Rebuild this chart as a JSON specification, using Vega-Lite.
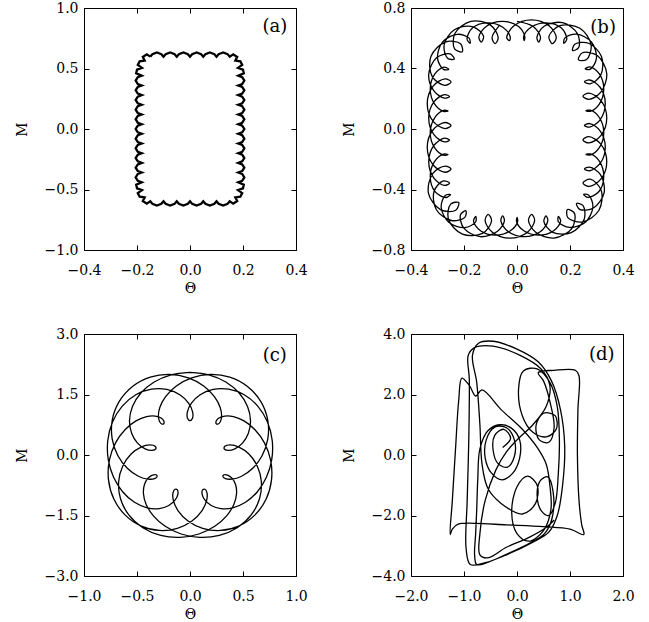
{
"$schema":"https://vega.github.io/schema/vega-lite/v6.json",
"background":"white",
"padding":{"left":14,"top":0,"right":0,"bottom":0},
"config":{"view":{"stroke":"black","strokeWidth":1},
"axis":{"domain":false,"grid":false,"tickSize":-5,"tickColor":"black","tickWidth":1,"labelColor":"black","labelFont":"DejaVu Serif","labelFontSize":14,"labelFlush":false,"labelOverlap":false,"titleFont":"DejaVu Serif","titleFontSize":14,"titleFontWeight":"normal","titleColor":"black"},
"axisX":{"labelPadding":18,"titlePadding":4},
"axisY":{"labelPadding":11,"titlePadding":15},
"text":{"font":"DejaVu Serif","fontSize":18,"color":"black"}},
"datasets":{
"a":[{"i":0,"x":-0.15,"y":0.598},{"i":1,"x":-0.142,"y":0.618},{"i":2,"x":-0.125,"y":0.632},{"i":3,"x":-0.108,"y":0.618},{"i":4,"x":-0.1,"y":0.598},{"i":5,"x":-0.092,"y":0.618},{"i":6,"x":-0.075,"y":0.632},{"i":7,"x":-0.058,"y":0.618},{"i":8,"x":-0.05,"y":0.598},{"i":9,"x":-0.042,"y":0.618},{"i":10,"x":-0.025,"y":0.632},{"i":11,"x":-0.008,"y":0.618},{"i":12,"x":0,"y":0.598},{"i":13,"x":0.008,"y":0.618},{"i":14,"x":0.025,"y":0.632},{"i":15,"x":0.042,"y":0.618},{"i":16,"x":0.05,"y":0.598},{"i":17,"x":0.058,"y":0.618},{"i":18,"x":0.075,"y":0.632},{"i":19,"x":0.092,"y":0.618},{"i":20,"x":0.1,"y":0.598},{"i":21,"x":0.108,"y":0.618},{"i":22,"x":0.125,"y":0.632},{"i":23,"x":0.142,"y":0.618},{"i":24,"x":0.15,"y":0.598},
{"i":25,"x":0.163,"y":0.617},{"i":26,"x":0.178,"y":0.595},{"i":27,"x":0.171,"y":0.565},{"i":28,"x":0.19,"y":0.56},{"i":29,"x":0.197,"y":0.53},{"i":30,"x":0.181,"y":0.505},{"i":31,"x":0.2,"y":0.49},{"i":32,"x":0.203,"y":0.46},{"i":34,"x":0.182,"y":0.44},
{"i":35,"x":0.197,"y":0.428},{"i":36,"x":0.205,"y":0.4},{"i":37,"x":0.197,"y":0.372},{"i":38,"x":0.182,"y":0.36},{"i":39,"x":0.197,"y":0.348},{"i":40,"x":0.205,"y":0.32},{"i":41,"x":0.197,"y":0.292},{"i":42,"x":0.182,"y":0.28},{"i":43,"x":0.197,"y":0.268},{"i":44,"x":0.205,"y":0.24},{"i":45,"x":0.197,"y":0.212},{"i":46,"x":0.182,"y":0.2},{"i":47,"x":0.197,"y":0.188},{"i":48,"x":0.205,"y":0.16},{"i":49,"x":0.197,"y":0.132},{"i":50,"x":0.182,"y":0.12},{"i":51,"x":0.197,"y":0.108},{"i":52,"x":0.205,"y":0.08},{"i":53,"x":0.197,"y":0.052},{"i":54,"x":0.182,"y":0.04},{"i":55,"x":0.197,"y":0.028},{"i":56,"x":0.205,"y":0},{"i":57,"x":0.197,"y":-0.028},{"i":58,"x":0.182,"y":-0.04},{"i":59,"x":0.197,"y":-0.052},{"i":60,"x":0.205,"y":-0.08},{"i":61,"x":0.197,"y":-0.108},{"i":62,"x":0.182,"y":-0.12},{"i":63,"x":0.197,"y":-0.132},{"i":64,"x":0.205,"y":-0.16},{"i":65,"x":0.197,"y":-0.188},{"i":66,"x":0.182,"y":-0.2},{"i":67,"x":0.197,"y":-0.212},{"i":68,"x":0.205,"y":-0.24},{"i":69,"x":0.197,"y":-0.268},{"i":70,"x":0.182,"y":-0.28},{"i":71,"x":0.197,"y":-0.292},{"i":72,"x":0.205,"y":-0.32},{"i":73,"x":0.197,"y":-0.348},{"i":74,"x":0.182,"y":-0.36},{"i":75,"x":0.197,"y":-0.372},{"i":76,"x":0.205,"y":-0.4},{"i":77,"x":0.197,"y":-0.428},{"i":78,"x":0.182,"y":-0.44},
{"i":79,"x":0.203,"y":-0.46},{"i":80,"x":0.2,"y":-0.49},{"i":81,"x":0.181,"y":-0.505},{"i":82,"x":0.197,"y":-0.53},{"i":83,"x":0.19,"y":-0.56},{"i":84,"x":0.171,"y":-0.565},{"i":85,"x":0.178,"y":-0.595},{"i":86,"x":0.163,"y":-0.617},{"i":88,"x":0.15,"y":-0.598},
{"i":89,"x":0.142,"y":-0.618},{"i":90,"x":0.125,"y":-0.632},{"i":91,"x":0.108,"y":-0.618},{"i":92,"x":0.1,"y":-0.598},{"i":93,"x":0.092,"y":-0.618},{"i":94,"x":0.075,"y":-0.632},{"i":95,"x":0.058,"y":-0.618},{"i":96,"x":0.05,"y":-0.598},{"i":97,"x":0.042,"y":-0.618},{"i":98,"x":0.025,"y":-0.632},{"i":99,"x":0.008,"y":-0.618},{"i":100,"x":0,"y":-0.598},{"i":101,"x":-0.008,"y":-0.618},{"i":102,"x":-0.025,"y":-0.632},{"i":103,"x":-0.042,"y":-0.618},{"i":104,"x":-0.05,"y":-0.598},{"i":105,"x":-0.058,"y":-0.618},{"i":106,"x":-0.075,"y":-0.632},{"i":107,"x":-0.092,"y":-0.618},{"i":108,"x":-0.1,"y":-0.598},{"i":109,"x":-0.108,"y":-0.618},{"i":110,"x":-0.125,"y":-0.632},{"i":111,"x":-0.142,"y":-0.618},{"i":112,"x":-0.15,"y":-0.598},
{"i":113,"x":-0.163,"y":-0.617},{"i":114,"x":-0.178,"y":-0.595},{"i":115,"x":-0.171,"y":-0.565},{"i":116,"x":-0.19,"y":-0.56},{"i":117,"x":-0.197,"y":-0.53},{"i":118,"x":-0.181,"y":-0.505},{"i":119,"x":-0.2,"y":-0.49},{"i":120,"x":-0.203,"y":-0.46},{"i":122,"x":-0.182,"y":-0.44},
{"i":123,"x":-0.197,"y":-0.428},{"i":124,"x":-0.205,"y":-0.4},{"i":125,"x":-0.197,"y":-0.372},{"i":126,"x":-0.182,"y":-0.36},{"i":127,"x":-0.197,"y":-0.348},{"i":128,"x":-0.205,"y":-0.32},{"i":129,"x":-0.197,"y":-0.292},{"i":130,"x":-0.182,"y":-0.28},{"i":131,"x":-0.197,"y":-0.268},{"i":132,"x":-0.205,"y":-0.24},{"i":133,"x":-0.197,"y":-0.212},{"i":134,"x":-0.182,"y":-0.2},{"i":135,"x":-0.197,"y":-0.188},{"i":136,"x":-0.205,"y":-0.16},{"i":137,"x":-0.197,"y":-0.132},{"i":138,"x":-0.182,"y":-0.12},{"i":139,"x":-0.197,"y":-0.108},{"i":140,"x":-0.205,"y":-0.08},{"i":141,"x":-0.197,"y":-0.052},{"i":142,"x":-0.182,"y":-0.04},{"i":143,"x":-0.197,"y":-0.028},{"i":144,"x":-0.205,"y":0},{"i":145,"x":-0.197,"y":0.028},{"i":146,"x":-0.182,"y":0.04},{"i":147,"x":-0.197,"y":0.052},{"i":148,"x":-0.205,"y":0.08},{"i":149,"x":-0.197,"y":0.108},{"i":150,"x":-0.182,"y":0.12},{"i":151,"x":-0.197,"y":0.132},{"i":152,"x":-0.205,"y":0.16},{"i":153,"x":-0.197,"y":0.188},{"i":154,"x":-0.182,"y":0.2},{"i":155,"x":-0.197,"y":0.212},{"i":156,"x":-0.205,"y":0.24},{"i":157,"x":-0.197,"y":0.268},{"i":158,"x":-0.182,"y":0.28},{"i":159,"x":-0.197,"y":0.292},{"i":160,"x":-0.205,"y":0.32},{"i":161,"x":-0.197,"y":0.348},{"i":162,"x":-0.182,"y":0.36},{"i":163,"x":-0.197,"y":0.372},{"i":164,"x":-0.205,"y":0.4},{"i":165,"x":-0.197,"y":0.428},{"i":166,"x":-0.182,"y":0.44},
{"i":167,"x":-0.203,"y":0.46},{"i":168,"x":-0.2,"y":0.49},{"i":169,"x":-0.181,"y":0.505},{"i":170,"x":-0.197,"y":0.53},{"i":171,"x":-0.19,"y":0.56},{"i":172,"x":-0.171,"y":0.565},{"i":173,"x":-0.178,"y":0.595},{"i":174,"x":-0.163,"y":0.617},{"i":176,"x":-0.15,"y":0.598}],
"b":[{"i":0,"x":0,"y":0.712},{"i":1,"x":0.0613,"y":0.678},{"i":2,"x":0.0886,"y":0.608},{"i":3,"x":0.0819,"y":0.574},{"i":4,"x":0.0752,"y":0.608},{"i":5,"x":0.1037,"y":0.681},{"i":6,"x":0.1722,"y":0.703},{"i":7,"x":0.2284,"y":0.63},{"i":8,"x":0.2325,"y":0.538},{"i":9,"x":0.2098,"y":0.519},{"i":10,"x":0.218,"y":0.56},{"i":11,"x":0.2703,"y":0.567},{"i":12,"x":0.3188,"y":0.479},{"i":13,"x":0.3164,"y":0.358},{"i":14,"x":0.2758,"y":0.299},{"i":15,"x":0.2545,"y":0.313},{"i":16,"x":0.2741,"y":0.324},{"i":17,"x":0.3135,"y":0.276},{"i":18,"x":0.3331,"y":0.169},{"i":19,"x":0.3135,"y":0.061},{"i":20,"x":0.2741,"y":0.013},{"i":21,"x":0.2545,"y":0.024},{"i":22,"x":0.2741,"y":0.036},{"i":23,"x":0.3135,"y":-0.012},{"i":24,"x":0.3331,"y":-0.12},{"i":25,"x":0.3135,"y":-0.228},{"i":26,"x":0.2741,"y":-0.276},{"i":27,"x":0.2545,"y":-0.264},{"i":28,"x":0.2741,"y":-0.252},{"i":29,"x":0.3149,"y":-0.302},{"i":30,"x":0.3286,"y":-0.422},{"i":31,"x":0.2887,"y":-0.522},{"i":32,"x":0.2364,"y":-0.531},{"i":33,"x":0.2247,"y":-0.492},{"i":34,"x":0.2487,"y":-0.505},{"i":35,"x":0.2535,"y":-0.597},{"i":36,"x":0.2045,"y":-0.685},{"i":37,"x":0.135,"y":-0.683},{"i":38,"x":0.1015,"y":-0.612},{"i":39,"x":0.1095,"y":-0.574},{"i":40,"x":0.1162,"y":-0.608},{"i":41,"x":0.0889,"y":-0.678},{"i":42,"x":0.0277,"y":-0.712},{"i":43,"x":-0.0336,"y":-0.678},{"i":44,"x":-0.0609,"y":-0.608},{"i":45,"x":-0.0542,"y":-0.574},{"i":46,"x":-0.0475,"y":-0.608},{"i":47,"x":-0.0748,"y":-0.678},{"i":48,"x":-0.1386,"y":-0.712},{"i":49,"x":-0.2006,"y":-0.656},{"i":50,"x":-0.2132,"y":-0.567},{"i":51,"x":-0.1929,"y":-0.541},{"i":52,"x":-0.1969,"y":-0.584},{"i":53,"x":-0.2478,"y":-0.605},{"i":54,"x":-0.3041,"y":-0.534},{"i":55,"x":-0.3129,"y":-0.412},{"i":56,"x":-0.278,"y":-0.343},{"i":57,"x":-0.2545,"y":-0.358},{"i":58,"x":-0.2741,"y":-0.373},{"i":59,"x":-0.3135,"y":-0.325},{"i":60,"x":-0.3331,"y":-0.217},{"i":61,"x":-0.3135,"y":-0.109},{"i":62,"x":-0.2741,"y":-0.061},{"i":63,"x":-0.2545,"y":-0.073},{"i":64,"x":-0.2741,"y":-0.085},{"i":65,"x":-0.3135,"y":-0.037},{"i":66,"x":-0.3331,"y":0.071},{"i":67,"x":-0.3135,"y":0.179},{"i":68,"x":-0.2741,"y":0.227},{"i":69,"x":-0.2545,"y":0.215},{"i":70,"x":-0.2741,"y":0.204},{"i":71,"x":-0.3135,"y":0.252},{"i":72,"x":-0.3331,"y":0.362},{"i":73,"x":-0.3027,"y":0.472},{"i":74,"x":-0.2521,"y":0.496},{"i":75,"x":-0.2367,"y":0.462},{"i":76,"x":-0.2619,"y":0.468},{"i":77,"x":-0.2748,"y":0.557},{"i":78,"x":-0.2349,"y":0.658},{"i":79,"x":-0.166,"y":0.676},{"i":80,"x":-0.1265,"y":0.615},{"i":81,"x":-0.1345,"y":0.574},{"i":82,"x":-0.1439,"y":0.608},{"i":83,"x":-0.1166,"y":0.678},{"i":84,"x":-0.0553,"y":0.712},{"i":85,"x":0.006,"y":0.678},
{"i":86,"x":0.0291,"y":0.613},{"i":87,"x":0.0273,"y":0.584},{"i":88,"x":0.0255,"y":0.613},{"i":89,"x":0.0528,"y":0.673},{"i":90,"x":0.1092,"y":0.702},{"i":91,"x":0.1665,"y":0.669},{"i":92,"x":0.188,"y":0.595},{"i":93,"x":0.1768,"y":0.566},{"i":94,"x":0.1802,"y":0.601},{"i":95,"x":0.2245,"y":0.627},{"i":96,"x":0.2807,"y":0.575},{"i":97,"x":0.2998,"y":0.469},{"i":98,"x":0.2771,"y":0.396},{"i":99,"x":0.2572,"y":0.397},{"i":100,"x":0.2757,"y":0.411},{"i":101,"x":0.3106,"y":0.364},{"i":102,"x":0.3274,"y":0.265},{"i":103,"x":0.3106,"y":0.165},{"i":104,"x":0.277,"y":0.117},{"i":105,"x":0.2602,"y":0.121},{"i":106,"x":0.277,"y":0.124},{"i":107,"x":0.3106,"y":0.076},{"i":108,"x":0.3274,"y":-0.024},{"i":109,"x":0.3106,"y":-0.123},{"i":110,"x":0.277,"y":-0.171},{"i":111,"x":0.2602,"y":-0.168},{"i":112,"x":0.277,"y":-0.165},{"i":113,"x":0.3106,"y":-0.213},{"i":114,"x":0.3274,"y":-0.312},{"i":115,"x":0.3093,"y":-0.413},{"i":116,"x":0.2677,"y":-0.452},{"i":117,"x":0.2513,"y":-0.432},{"i":118,"x":0.2708,"y":-0.438},{"i":119,"x":0.2864,"y":-0.516},{"i":120,"x":0.2579,"y":-0.616},{"i":121,"x":0.1983,"y":-0.651},{"i":122,"x":0.1562,"y":-0.613},{"i":123,"x":0.1561,"y":-0.578},{"i":124,"x":0.1647,"y":-0.61},{"i":125,"x":0.1386,"y":-0.673},{"i":126,"x":0.0822,"y":-0.702},{"i":127,"x":0.0258,"y":-0.673},{"i":128,"x":-0.0014,"y":-0.613},{"i":129,"x":0.0004,"y":-0.584},{"i":130,"x":0.0022,"y":-0.613},{"i":131,"x":-0.0251,"y":-0.673},{"i":132,"x":-0.0815,"y":-0.702},{"i":133,"x":-0.1379,"y":-0.673},{"i":134,"x":-0.1641,"y":-0.61},{"i":135,"x":-0.1555,"y":-0.578},{"i":136,"x":-0.1558,"y":-0.613},{"i":137,"x":-0.1973,"y":-0.652},{"i":138,"x":-0.2574,"y":-0.616},{"i":139,"x":-0.2862,"y":-0.517},{"i":140,"x":-0.2707,"y":-0.439},{"i":141,"x":-0.2509,"y":-0.433},{"i":142,"x":-0.2676,"y":-0.453},{"i":143,"x":-0.3092,"y":-0.414},{"i":144,"x":-0.3274,"y":-0.313},{"i":145,"x":-0.3106,"y":-0.214},{"i":146,"x":-0.277,"y":-0.166},{"i":147,"x":-0.2602,"y":-0.169},{"i":148,"x":-0.277,"y":-0.173},{"i":149,"x":-0.3106,"y":-0.125},{"i":150,"x":-0.3274,"y":-0.025},{"i":151,"x":-0.3106,"y":0.074},{"i":152,"x":-0.277,"y":0.123},{"i":153,"x":-0.2602,"y":0.119},{"i":154,"x":-0.277,"y":0.116},{"i":155,"x":-0.3106,"y":0.164},{"i":156,"x":-0.3274,"y":0.263},{"i":157,"x":-0.3106,"y":0.363},{"i":158,"x":-0.2758,"y":0.409},{"i":159,"x":-0.2575,"y":0.395},{"i":160,"x":-0.2774,"y":0.394},{"i":161,"x":-0.2998,"y":0.467},{"i":162,"x":-0.2812,"y":0.574},{"i":163,"x":-0.2253,"y":0.626},{"i":164,"x":-0.1806,"y":0.601},{"i":165,"x":-0.177,"y":0.566},{"i":166,"x":-0.1886,"y":0.595},{"i":167,"x":-0.1674,"y":0.669},{"i":168,"x":-0.1099,"y":0.702},{"i":169,"x":-0.0535,"y":0.673},{"i":170,"x":-0.0262,"y":0.613},{"i":171,"x":-0.028,"y":0.584},
{"i":172,"x":-0.0389,"y":0.604},{"i":173,"x":-0.0116,"y":0.683},{"i":174,"x":0.0546,"y":0.722},{"i":175,"x":0.1208,"y":0.683},{"i":176,"x":0.1481,"y":0.604},{"i":177,"x":0.1335,"y":0.564},{"i":178,"x":0.1205,"y":0.612},{"i":179,"x":0.162,"y":0.683},{"i":180,"x":0.2373,"y":0.666},{"i":181,"x":0.2796,"y":0.556},{"i":182,"x":0.2625,"y":0.459},{"i":183,"x":0.2319,"y":0.458},{"i":184,"x":0.2472,"y":0.504},{"i":185,"x":0.304,"y":0.484},{"i":186,"x":0.3387,"y":0.365},{"i":187,"x":0.3163,"y":0.244},{"i":188,"x":0.2713,"y":0.196},{"i":189,"x":0.2489,"y":0.217},{"i":190,"x":0.2713,"y":0.237},{"i":191,"x":0.3163,"y":0.189},{"i":192,"x":0.3387,"y":0.072},{"i":193,"x":0.3163,"y":-0.044},{"i":194,"x":0.2713,"y":-0.092},{"i":195,"x":0.2489,"y":-0.072},{"i":196,"x":0.2713,"y":-0.051},{"i":197,"x":0.3163,"y":-0.1},{"i":198,"x":0.3387,"y":-0.216},{"i":199,"x":0.3163,"y":-0.332},{"i":200,"x":0.2713,"y":-0.38},{"i":201,"x":0.2489,"y":-0.357},{"i":202,"x":0.2761,"y":-0.332},{"i":203,"x":0.3175,"y":-0.404},{"i":204,"x":0.3093,"y":-0.537},{"i":205,"x":0.2474,"y":-0.614},{"i":206,"x":0.1918,"y":-0.586},{"i":207,"x":0.1906,"y":-0.532},{"i":208,"x":0.2169,"y":-0.558},{"i":209,"x":0.2067,"y":-0.658},{"i":210,"x":0.1398,"y":-0.721},{"i":211,"x":0.0706,"y":-0.683},{"i":212,"x":0.0433,"y":-0.604},{"i":213,"x":0.0549,"y":-0.564},{"i":214,"x":0.0666,"y":-0.604},{"i":215,"x":0.0393,"y":-0.683},{"i":216,"x":-0.0269,"y":-0.722},{"i":217,"x":-0.0931,"y":-0.683},{"i":218,"x":-0.1204,"y":-0.604},{"i":219,"x":-0.1088,"y":-0.564},{"i":220,"x":-0.0959,"y":-0.607},{"i":221,"x":-0.1301,"y":-0.69},{"i":222,"x":-0.2061,"y":-0.695},{"i":223,"x":-0.2583,"y":-0.598},{"i":224,"x":-0.2504,"y":-0.497},{"i":225,"x":-0.2202,"y":-0.486},{"i":226,"x":-0.2311,"y":-0.537},{"i":227,"x":-0.2889,"y":-0.533},{"i":228,"x":-0.334,"y":-0.425},{"i":229,"x":-0.3181,"y":-0.295},{"i":230,"x":-0.2713,"y":-0.245},{"i":231,"x":-0.2489,"y":-0.265},{"i":232,"x":-0.2713,"y":-0.286},{"i":233,"x":-0.3163,"y":-0.238},{"i":234,"x":-0.3387,"y":-0.121},{"i":235,"x":-0.3163,"y":-0.005},{"i":236,"x":-0.2713,"y":0.043},{"i":237,"x":-0.2489,"y":0.023},{"i":238,"x":-0.2713,"y":0.003},{"i":239,"x":-0.3163,"y":0.051},{"i":240,"x":-0.3387,"y":0.167},{"i":241,"x":-0.3163,"y":0.284},{"i":242,"x":-0.2713,"y":0.332},{"i":243,"x":-0.2489,"y":0.311},{"i":244,"x":-0.273,"y":0.289},{"i":245,"x":-0.3203,"y":0.348},{"i":246,"x":-0.3245,"y":0.481},{"i":247,"x":-0.2704,"y":0.575},{"i":248,"x":-0.2132,"y":0.564},{"i":249,"x":-0.2067,"y":0.511},{"i":250,"x":-0.2354,"y":0.529},{"i":251,"x":-0.2344,"y":0.631},{"i":252,"x":-0.1743,"y":0.712},{"i":253,"x":-0.0999,"y":0.687},{"i":254,"x":-0.071,"y":0.604},{"i":255,"x":-0.0826,"y":0.564},{"i":256,"x":-0.0942,"y":0.604},{"i":257,"x":-0.0669,"y":0.683}],
"c":[{"i":0,"x":0,"y":2.05},{"i":1,"x":0.1781,"y":1.9883},{"i":2,"x":0.3379,"y":1.8103},{"i":3,"x":0.4635,"y":1.5371},{"i":4,"x":0.5428,"y":1.2036},{"i":5,"x":0.5708,"y":0.8543},{"i":6,"x":0.5507,"y":0.5373},{"i":7,"x":0.4951,"y":0.2949},{"i":8,"x":0.4231,"y":0.1534},{"i":9,"x":0.3587,"y":0.114},{"i":10,"x":0.3227,"y":0.151},{"i":11,"x":0.3289,"y":0.216},{"i":12,"x":0.3789,"y":0.2492},{"i":13,"x":0.4616,"y":0.1962},{"i":14,"x":0.5556,"y":0.0239},{"i":15,"x":0.6342,"y":-0.2707},{"i":16,"x":0.6731,"y":-0.6582},{"i":17,"x":0.6557,"y":-1.0846},{"i":18,"x":0.5772,"y":-1.4858},{"i":19,"x":0.4449,"y":-1.8026},{"i":20,"x":0.2761,"y":-1.994},{"i":21,"x":0.0926,"y":-2.043},{"i":22,"x":-0.0834,"y":-1.9586},{"i":23,"x":-0.2335,"y":-1.7677},{"i":24,"x":-0.3453,"y":-1.509},{"i":25,"x":-0.4135,"y":-1.225},{"i":26,"x":-0.4393,"y":-0.9542},{"i":27,"x":-0.4295,"y":-0.7297},{"i":28,"x":-0.3959,"y":-0.5739},{"i":29,"x":-0.3538,"y":-0.4963},{"i":30,"x":-0.32,"y":-0.4903},{"i":31,"x":-0.3101,"y":-0.5328},{"i":32,"x":-0.3345,"y":-0.5849},{"i":33,"x":-0.3959,"y":-0.5982},{"i":34,"x":-0.4866,"y":-0.5262},{"i":35,"x":-0.5891,"y":-0.3357},{"i":36,"x":-0.68,"y":-0.0187},{"i":37,"x":-0.7342,"y":0.4014},{"i":38,"x":-0.733,"y":0.8736},{"i":39,"x":-0.6673,"y":1.3294},{"i":40,"x":-0.5424,"y":1.6996},{"i":41,"x":-0.3752,"y":1.9309},{"i":42,"x":-0.1907,"y":1.9993},{"i":43,"x":-0.0151,"y":1.9137},{"i":44,"x":0.1294,"y":1.712},{"i":45,"x":0.23,"y":1.45},{"i":46,"x":0.284,"y":1.186},{"i":47,"x":0.2983,"y":0.9681},{"i":48,"x":0.2863,"y":0.8255},{"i":49,"x":0.264,"y":0.7665},{"i":50,"x":0.2468,"y":0.7804},{"i":51,"x":0.2471,"y":0.8414},{"i":52,"x":0.2732,"y":0.9154},{"i":53,"x":0.328,"y":0.9648},{"i":54,"x":0.4096,"y":0.9521},{"i":55,"x":0.5093,"y":0.8461},{"i":56,"x":0.6134,"y":0.6274},{"i":57,"x":0.7037,"y":0.2936},{"i":58,"x":0.7611,"y":-0.1353},{"i":59,"x":0.7689,"y":-0.6166},{"i":60,"x":0.7184,"y":-1.0903},{"i":61,"x":0.611,"y":-1.4911},{"i":62,"x":0.4599,"y":-1.7623},{"i":63,"x":0.2873,"y":-1.8711},{"i":64,"x":0.1197,"y":-1.8174},{"i":65,"x":-0.0187,"y":-1.6354},{"i":66,"x":-0.1121,"y":-1.3836},{"i":67,"x":-0.1565,"y":-1.1319},{"i":68,"x":-0.1604,"y":-0.941},{"i":69,"x":-0.1406,"y":-0.8496},{"i":70,"x":-0.1187,"y":-0.8664},{"i":71,"x":-0.1141,"y":-0.969},{"i":72,"x":-0.1396,"y":-1.115},{"i":73,"x":-0.2001,"y":-1.2516},{"i":74,"x":-0.2917,"y":-1.3292},{"i":75,"x":-0.4042,"y":-1.3099},{"i":76,"x":-0.5234,"y":-1.1733},{"i":77,"x":-0.634,"y":-0.9164},{"i":78,"x":-0.7207,"y":-0.5538},{"i":79,"x":-0.7711,"y":-0.1148},{"i":80,"x":-0.7757,"y":0.3594},{"i":81,"x":-0.7309,"y":0.8194},{"i":82,"x":-0.6391,"y":1.2128},{"i":83,"x":-0.5111,"y":1.4941},{"i":84,"x":-0.3637,"y":1.6335},{"i":85,"x":-0.2184,"y":1.6257},{"i":86,"x":-0.0964,"y":1.4938},{"i":87,"x":-0.0135,"y":1.2877},{"i":88,"x":0.0245,"y":1.0715},{"i":89,"x":0.0235,"y":0.9097},{"i":90,"x":0,"y":0.85},{"i":91,"x":-0.0235,"y":0.9097},{"i":92,"x":-0.0245,"y":1.0715},{"i":93,"x":0.0135,"y":1.2877},{"i":94,"x":0.0964,"y":1.4938},{"i":95,"x":0.2184,"y":1.6257},{"i":96,"x":0.3637,"y":1.6335},{"i":97,"x":0.5111,"y":1.4941},{"i":98,"x":0.6391,"y":1.2128},{"i":99,"x":0.7309,"y":0.8194},{"i":100,"x":0.7757,"y":0.3594},{"i":101,"x":0.7711,"y":-0.1148},{"i":102,"x":0.7207,"y":-0.5538},{"i":103,"x":0.634,"y":-0.9164},{"i":104,"x":0.5234,"y":-1.1733},{"i":105,"x":0.4042,"y":-1.3099},{"i":106,"x":0.2917,"y":-1.3292},{"i":107,"x":0.2001,"y":-1.2516},{"i":108,"x":0.1396,"y":-1.115},{"i":109,"x":0.1141,"y":-0.969},{"i":110,"x":0.1187,"y":-0.8664},{"i":111,"x":0.1406,"y":-0.8496},{"i":112,"x":0.1604,"y":-0.941},{"i":113,"x":0.1565,"y":-1.1319},{"i":114,"x":0.1121,"y":-1.3836},{"i":115,"x":0.0187,"y":-1.6354},{"i":116,"x":-0.1197,"y":-1.8174},{"i":117,"x":-0.2873,"y":-1.8711},{"i":118,"x":-0.4599,"y":-1.7623},{"i":119,"x":-0.611,"y":-1.4911},{"i":120,"x":-0.7184,"y":-1.0903},{"i":121,"x":-0.7689,"y":-0.6166},{"i":122,"x":-0.7611,"y":-0.1353},{"i":123,"x":-0.7037,"y":0.2936},{"i":124,"x":-0.6134,"y":0.6274},{"i":125,"x":-0.5093,"y":0.8461},{"i":126,"x":-0.4096,"y":0.9521},{"i":127,"x":-0.328,"y":0.9648},{"i":128,"x":-0.2732,"y":0.9154},{"i":129,"x":-0.2471,"y":0.8414},{"i":130,"x":-0.2468,"y":0.7804},{"i":131,"x":-0.264,"y":0.7665},{"i":132,"x":-0.2863,"y":0.8255},{"i":133,"x":-0.2983,"y":0.9681},{"i":134,"x":-0.284,"y":1.186},{"i":135,"x":-0.23,"y":1.45},{"i":136,"x":-0.1294,"y":1.712},{"i":137,"x":0.0151,"y":1.9137},{"i":138,"x":0.1907,"y":1.9993},{"i":139,"x":0.3752,"y":1.9309},{"i":140,"x":0.5424,"y":1.6996},{"i":141,"x":0.6673,"y":1.3294},{"i":142,"x":0.733,"y":0.8736},{"i":143,"x":0.7342,"y":0.4014},{"i":144,"x":0.68,"y":-0.0187},{"i":145,"x":0.5891,"y":-0.3357},{"i":146,"x":0.4866,"y":-0.5262},{"i":147,"x":0.3959,"y":-0.5982},{"i":148,"x":0.3345,"y":-0.5849},{"i":149,"x":0.3101,"y":-0.5328},{"i":150,"x":0.32,"y":-0.4903},{"i":151,"x":0.3538,"y":-0.4963},{"i":152,"x":0.3959,"y":-0.5739},{"i":153,"x":0.4295,"y":-0.7297},{"i":154,"x":0.4393,"y":-0.9542},{"i":155,"x":0.4135,"y":-1.225},{"i":156,"x":0.3453,"y":-1.509},{"i":157,"x":0.2335,"y":-1.7677},{"i":158,"x":0.0834,"y":-1.9586},{"i":159,"x":-0.0926,"y":-2.043},{"i":160,"x":-0.2761,"y":-1.994},{"i":161,"x":-0.4449,"y":-1.8026},{"i":162,"x":-0.5772,"y":-1.4858},{"i":163,"x":-0.6557,"y":-1.0846},{"i":164,"x":-0.6731,"y":-0.6582},{"i":165,"x":-0.6342,"y":-0.2707},{"i":166,"x":-0.5556,"y":0.0239},{"i":167,"x":-0.4616,"y":0.1962},{"i":168,"x":-0.3789,"y":0.2492},{"i":169,"x":-0.3289,"y":0.216},{"i":170,"x":-0.3227,"y":0.151},{"i":171,"x":-0.3587,"y":0.114},{"i":172,"x":-0.4231,"y":0.1534},{"i":173,"x":-0.4951,"y":0.2949},{"i":174,"x":-0.5507,"y":0.5373},{"i":175,"x":-0.5708,"y":0.8543},{"i":176,"x":-0.5428,"y":1.2036},{"i":177,"x":-0.4635,"y":1.5371},{"i":178,"x":-0.3379,"y":1.8103},{"i":179,"x":-0.1781,"y":1.9883},{"i":180,"x":0,"y":2.05}],
"d":[{"i":1,"x":-0.27,"y":0.25},{"i":2,"x":-0.12,"y":0.55},{"i":3,"x":-0.25,"y":0.85},{"i":4,"x":-0.42,"y":0.65},{"i":5,"x":-0.45,"y":0.15},{"i":6,"x":-0.35,"y":-0.3},{"i":7,"x":-0.18,"y":-0.4},{"i":8,"x":-0.05,"y":-0.05},{"i":9,"x":-0.05,"y":0.5},{"i":10,"x":-0.2,"y":0.9},{"i":11,"x":-0.42,"y":0.92},{"i":12,"x":-0.58,"y":0.5},{"i":13,"x":-0.6,"y":-0.1},{"i":14,"x":-0.48,"y":-0.6},{"i":15,"x":-0.28,"y":-0.82},{"i":16,"x":-0.08,"y":-0.6},{"i":17,"x":0.05,"y":-0.1},{"i":18,"x":0.05,"y":0.5},{"i":19,"x":-0.1,"y":0.88},{"i":20,"x":-0.32,"y":1.0},{"i":21,"x":-0.55,"y":0.8},{"i":22,"x":-0.7,"y":0.2},{"i":23,"x":-0.74,"y":-0.8},{"i":24,"x":-0.76,"y":-1.8},{"i":25,"x":-0.78,"y":-2.6},{"i":26,"x":-0.8,"y":-3.3},{"i":27,"x":-0.76,"y":-3.62},{"i":28,"x":-0.55,"y":-3.55},{"i":29,"x":-0.2,"y":-3.28},{"i":30,"x":0.2,"y":-2.95},{"i":31,"x":0.52,"y":-2.6},{"i":32,"x":0.66,"y":-2.1},{"i":33,"x":0.68,"y":-1.2},{"i":34,"x":0.58,"y":-0.72},{"i":35,"x":0.44,"y":-0.85},{"i":36,"x":0.38,"y":-1.35},{"i":37,"x":0.46,"y":-1.85},{"i":38,"x":0.6,"y":-2.0},{"i":39,"x":0.72,"y":-1.6},{"i":40,"x":0.78,"y":-0.6},{"i":41,"x":0.8,"y":0.5},{"i":42,"x":0.76,"y":1.6},{"i":43,"x":0.62,"y":2.4},{"i":44,"x":0.38,"y":2.85},{"i":45,"x":0.12,"y":2.78},{"i":46,"x":0.03,"y":2.2},{"i":47,"x":0.1,"y":1.3},{"i":48,"x":0.3,"y":0.75},{"i":49,"x":0.55,"y":0.6},{"i":50,"x":0.74,"y":0.85},{"i":51,"x":0.72,"y":1.3},{"i":52,"x":0.5,"y":1.38},{"i":53,"x":0.36,"y":0.98},{"i":54,"x":0.42,"y":0.5},{"i":55,"x":0.6,"y":0.42},{"i":56,"x":0.7,"y":0.9},{"i":57,"x":0.63,"y":1.7},{"i":58,"x":0.5,"y":2.45},{"i":59,"x":0.4,"y":2.72},{"i":60,"x":0.7,"y":2.8},{"i":61,"x":1.1,"y":2.8},{"i":62,"x":1.17,"y":2.62},{"i":63,"x":1.15,"y":1.5},{"i":64,"x":1.14,"y":0.0},{"i":65,"x":1.17,"y":-1.5},{"i":66,"x":1.22,"y":-2.3},{"i":67,"x":1.26,"y":-2.63},{"i":68,"x":1.0,"y":-2.45},{"i":69,"x":0.5,"y":-2.37},{"i":70,"x":-0.2,"y":-2.31},{"i":71,"x":-0.8,"y":-2.26},{"i":72,"x":-1.1,"y":-2.28},{"i":73,"x":-1.22,"y":-2.45},{"i":74,"x":-1.26,"y":-2.63},{"i":75,"x":-1.22,"y":-1.5},{"i":76,"x":-1.16,"y":0.2},{"i":77,"x":-1.1,"y":1.8},{"i":78,"x":-1.04,"y":2.54},{"i":79,"x":-0.9,"y":2.3},{"i":80,"x":-0.78,"y":1.95},{"i":81,"x":-0.66,"y":2.15},{"i":82,"x":-0.3,"y":1.5},{"i":83,"x":0.1,"y":0.85},{"i":84,"x":0.38,"y":0.25},{"i":85,"x":0.55,"y":-0.3},{"i":86,"x":0.62,"y":-1.0},{"i":87,"x":0.64,"y":-1.8},{"i":88,"x":0.5,"y":-2.5},{"i":89,"x":0.22,"y":-2.85},{"i":90,"x":0.0,"y":-2.6},{"i":91,"x":-0.1,"y":-1.9},{"i":92,"x":0.0,"y":-1.05},{"i":93,"x":0.2,"y":-0.7},{"i":94,"x":0.38,"y":-1.0},{"i":95,"x":0.35,"y":-1.6},{"i":96,"x":0.1,"y":-1.95},{"i":97,"x":-0.3,"y":-1.6},{"i":98,"x":-0.55,"y":-1.1},{"i":99,"x":-0.66,"y":-0.3},{"i":100,"x":-0.7,"y":1.0},{"i":101,"x":-0.76,"y":2.4},{"i":102,"x":-0.84,"y":3.3},{"i":103,"x":-0.72,"y":3.7},{"i":104,"x":-0.45,"y":3.76},{"i":105,"x":0.0,"y":3.5},{"i":106,"x":0.4,"y":3.08},{"i":107,"x":0.65,"y":2.45},{"i":108,"x":0.82,"y":1.5},{"i":109,"x":0.9,"y":0.3},{"i":110,"x":0.86,"y":-1.0},{"i":111,"x":0.76,"y":-2.0},{"i":112,"x":0.6,"y":-2.55},{"i":113,"x":0.3,"y":-2.88},{"i":114,"x":-0.2,"y":-3.3},{"i":115,"x":-0.6,"y":-3.56},{"i":116,"x":-0.88,"y":-3.62},{"i":117,"x":-0.96,"y":-3.1},{"i":118,"x":-0.94,"y":-1.5},{"i":119,"x":-0.91,"y":0.5},{"i":120,"x":-0.9,"y":2.5},{"i":121,"x":-0.92,"y":3.3},{"i":122,"x":-0.8,"y":3.55},{"i":123,"x":-0.45,"y":3.6},{"i":124,"x":0.05,"y":3.3},{"i":125,"x":0.45,"y":2.85},{"i":126,"x":0.62,"y":2.3},{"i":127,"x":0.55,"y":1.6},{"i":128,"x":0.3,"y":1.0},{"i":129,"x":0.0,"y":0.5},{"i":130,"x":-0.2,"y":0.1},{"i":131,"x":-0.4,"y":-0.5},{"i":132,"x":-0.6,"y":-1.5},{"i":133,"x":-0.7,"y":-2.6},{"i":134,"x":-0.7,"y":-3.3},{"i":135,"x":-0.55,"y":-3.4},{"i":136,"x":-0.2,"y":-3.05},{"i":137,"x":0.2,"y":-2.75},{"i":138,"x":0.55,"y":-2.4},{"i":139,"x":0.7,"y":-2.15}]
},
"columns":2,
"spacing":{"row":30,"column":33},
"concat":[
{"width":212,"height":242,"data":{"name":"a"},
"layer":[
{"mark":{"type":"line","interpolate":"linear","stroke":"black","strokeWidth":2.3},
"encoding":{"x":{"field":"x","type":"quantitative","scale":{"domain":[-0.4,0.4],"nice":false,"zero":false},"axis":{"values":[-0.4,-0.2,0,0.2,0.4],"format":".1f","title":"Θ"}},
"y":{"field":"y","type":"quantitative","scale":{"domain":[-1,1],"nice":false,"zero":false},"axis":{"values":[-1,-0.5,0,0.5,1],"format":".1f","title":"M"}},
"order":{"field":"i","type":"quantitative"}}},
{"mark":{"type":"point","opacity":0},
"encoding":{"x":{"field":"x","type":"quantitative","axis":{"orient":"top","labels":false,"title":null,"values":[-0.4,-0.2,0,0.2,0.4]}},
"y":{"field":"y","type":"quantitative","axis":{"orient":"right","labels":false,"title":null,"values":[-1,-0.5,0,0.5,1]}}}},
{"data":{"values":[{"x":0.32,"y":0.844,"t":"(a)"}]},"mark":{"type":"text"},
"encoding":{"x":{"field":"x","type":"quantitative","axis":null},"y":{"field":"y","type":"quantitative","axis":null},"text":{"field":"t"}}}
],
"resolve":{"axis":{"x":"independent","y":"independent"}}},
{"width":212,"height":242,"data":{"name":"b"},
"layer":[
{"mark":{"type":"line","interpolate":"catmull-rom","stroke":"black","strokeWidth":1.3},
"encoding":{"x":{"field":"x","type":"quantitative","scale":{"domain":[-0.4,0.4],"nice":false,"zero":false},"axis":{"values":[-0.4,-0.2,0,0.2,0.4],"format":".1f","title":"Θ"}},
"y":{"field":"y","type":"quantitative","scale":{"domain":[-0.8,0.8],"nice":false,"zero":false},"axis":{"values":[-0.8,-0.4,0,0.4,0.8],"format":".1f","title":"M"}},
"order":{"field":"i","type":"quantitative"}}},
{"mark":{"type":"point","opacity":0},
"encoding":{"x":{"field":"x","type":"quantitative","axis":{"orient":"top","labels":false,"title":null,"values":[-0.4,-0.2,0,0.2,0.4]}},
"y":{"field":"y","type":"quantitative","axis":{"orient":"right","labels":false,"title":null,"values":[-0.8,-0.4,0,0.4,0.8]}}}},
{"data":{"values":[{"x":0.325,"y":0.668,"t":"(b)"}]},"mark":{"type":"text"},
"encoding":{"x":{"field":"x","type":"quantitative","axis":null},"y":{"field":"y","type":"quantitative","axis":null},"text":{"field":"t"}}}
],
"resolve":{"axis":{"x":"independent","y":"independent"}}},
{"width":212,"height":242,"data":{"name":"c"},
"layer":[
{"mark":{"type":"line","interpolate":"catmull-rom","stroke":"black","strokeWidth":1.3},
"encoding":{"x":{"field":"x","type":"quantitative","scale":{"domain":[-1,1],"nice":false,"zero":false},"axis":{"values":[-1,-0.5,0,0.5,1],"format":".1f","title":"Θ"}},
"y":{"field":"y","type":"quantitative","scale":{"domain":[-3,3],"nice":false,"zero":false},"axis":{"values":[-3,-1.5,0,1.5,3],"format":".1f","title":"M"}},
"order":{"field":"i","type":"quantitative"}}},
{"mark":{"type":"point","opacity":0},
"encoding":{"x":{"field":"x","type":"quantitative","axis":{"orient":"top","labels":false,"title":null,"values":[-1,-0.5,0,0.5,1]}},
"y":{"field":"y","type":"quantitative","axis":{"orient":"right","labels":false,"title":null,"values":[-3,-1.5,0,1.5,3]}}}},
{"data":{"values":[{"x":0.8,"y":2.45,"t":"(c)"}]},"mark":{"type":"text"},
"encoding":{"x":{"field":"x","type":"quantitative","axis":null},"y":{"field":"y","type":"quantitative","axis":null},"text":{"field":"t"}}}
],
"resolve":{"axis":{"x":"independent","y":"independent"}}},
{"width":212,"height":242,"data":{"name":"d"},
"layer":[
{"mark":{"type":"line","interpolate":"catmull-rom","stroke":"black","strokeWidth":1.3},
"encoding":{"x":{"field":"x","type":"quantitative","scale":{"domain":[-2,2],"nice":false,"zero":false},"axis":{"values":[-2,-1,0,1,2],"format":".1f","title":"Θ"}},
"y":{"field":"y","type":"quantitative","scale":{"domain":[-4,4],"nice":false,"zero":false},"axis":{"values":[-4,-2,0,2,4],"format":".1f","title":"M"}},
"order":{"field":"i","type":"quantitative"}}},
{"mark":{"type":"point","opacity":0},
"encoding":{"x":{"field":"x","type":"quantitative","axis":{"orient":"top","labels":false,"title":null,"values":[-2,-1,0,1,2]}},
"y":{"field":"y","type":"quantitative","axis":{"orient":"right","labels":false,"title":null,"values":[-4,-2,0,2,4]}}}},
{"data":{"values":[{"x":1.6,"y":3.3,"t":"(d)"}]},"mark":{"type":"text"},
"encoding":{"x":{"field":"x","type":"quantitative","axis":null},"y":{"field":"y","type":"quantitative","axis":null},"text":{"field":"t"}}}
],
"resolve":{"axis":{"x":"independent","y":"independent"}}}
]
}
